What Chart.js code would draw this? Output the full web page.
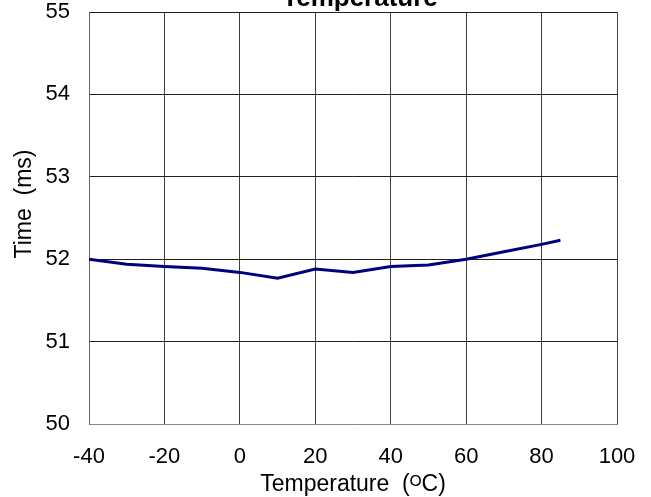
<!DOCTYPE html>
<html>
<head>
<meta charset="utf-8">
<script src="https://cdn.jsdelivr.net/npm/chart.js@4"></script>
<style>
  html, body { margin: 0; padding: 0; background: #fff; }
  #wrap { width: 651px; height: 497px; }
</style>
</head>
<body>
<div id="wrap"><canvas id="tempChart" width="651" height="497"></canvas></div>
<script>
// ===== Time vs Temperature =====
const temps = [-40, -30, -20, -10, 0, 10, 20, 30, 40, 50, 60, 70, 80, 85];
const times = [52.0, 51.94, 51.91, 51.89, 51.84, 51.77, 51.88, 51.84, 51.91, 51.93, 52.0, 52.09, 52.18, 52.23];

const FONT = "'Liberation Sans', Arial, sans-serif";

// title sits mostly above the canvas top, only its lower half shows;
// y-axis title drawn here too so it can sit a little above the axis middle
const extraText = {
  id: "extraText",
  afterDraw(chart) {
    const c = chart.ctx;
    c.save();
    c.fillStyle = "#000";
    c.textAlign = "center";
    c.textBaseline = "alphabetic";
    c.font = "bold 26px " + FONT;
    c.fillText("Temperature", 360, 6);

    c.translate(25, 204);
    c.rotate(-Math.PI / 2);
    c.textBaseline = "middle";
    c.font = "23px " + FONT;
    c.fillText("Time  (ms)", 0, 0);
    c.restore();
  },
};

const ctx = document.getElementById("tempChart").getContext("2d");

new Chart(ctx, {
  type: "line",
  data: {
    datasets: [
      {
        data: temps.map((t, i) => ({ x: t, y: times[i] })),
        borderColor: "#000080",
        borderWidth: 3,
        pointRadius: 0,
        tension: 0,
        fill: false,
      },
    ],
  },
  options: {
    responsive: false,
    animation: false,
    layout: { padding: { top: 12, right: 34, left: 0, bottom: 0 } },
    plugins: {
      legend: { display: false },
      tooltip: { enabled: false },
    },
    scales: {
      x: {
        type: "linear",
        min: -40,
        max: 100,
        ticks: { stepSize: 20, color: "#000", padding: 20, font: { family: FONT, size: 22 } },
        grid: { color: "#404040", lineWidth: 1, drawTicks: false },
        border: { color: "#888", width: 1 },
        title: {
          display: true,
          text: "Temperature  (\u1D3CC)",
          color: "#000",
          font: { family: FONT, size: 23 },
          padding: { top: 0, bottom: -1 },
        },
        afterFit(scale) {
          scale.height = 73;
          scale.paddingLeft = 0;
          scale.paddingRight = 0;
        },
      },
      y: {
        min: 50,
        max: 55,
        ticks: { stepSize: 1, color: "#000", padding: 19, font: { family: FONT, size: 22 } },
        grid: { color: "#202020", lineWidth: 1, drawTicks: false },
        border: { color: "#666", width: 1 },
        afterFit(scale) {
          scale.width = 89;
          scale.paddingTop = 0;
          scale.paddingBottom = 0;
        },
      },
    },
  },
  plugins: [extraText],
});
</script>
</body>
</html>
